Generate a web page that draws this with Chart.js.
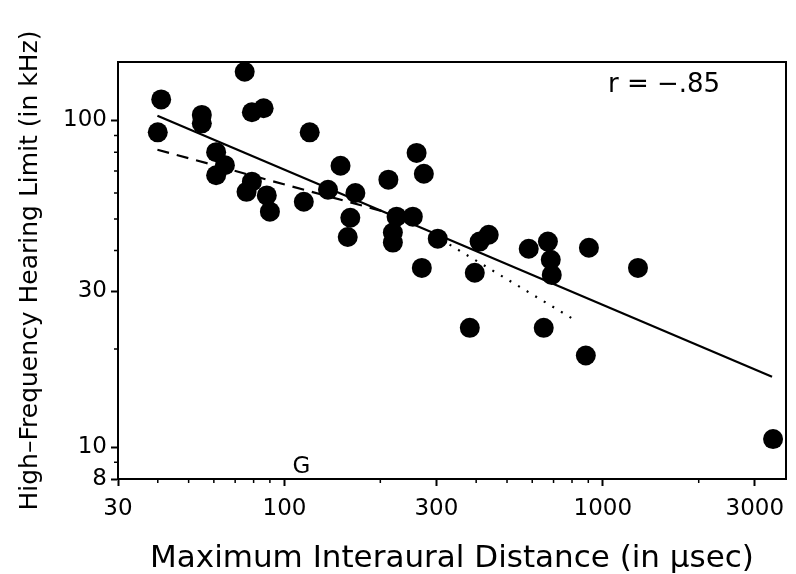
<!DOCTYPE html>
<html>
<head>
<meta charset="utf-8">
<script src="https://cdn.jsdelivr.net/npm/chart.js@4/dist/chart.umd.min.js"></script>
<style>
html,body{margin:0;padding:0;background:#fff;}
#wrap{width:796px;height:574px;}
</style>
</head>
<body>
<div id="wrap"><canvas id="c" width="796" height="574"></canvas></div>
<script>
// ---- data (x: µsec, y: kHz) ----
const interauralUs = [41, 40, 55, 55, 75, 79, 86, 120, 61, 65, 61, 79, 76, 88, 90, 115, 150, 137, 167, 161, 158, 260, 274, 212, 225, 253, 219, 219, 303, 270, 410, 438, 396, 382, 585, 672, 686, 691, 904, 652, 884, 1289, 3424];
const hearingKHz  = [116, 92, 104, 98, 141, 106, 109, 92, 80, 73, 68, 65, 60.5, 59, 52.6, 56.4, 72.7, 61.4, 60, 50.4, 44, 79.6, 68.7, 65.9, 50.8, 50.8, 45.4, 42.3, 43.5, 35.4, 42.6, 44.7, 34.2, 23.2, 40.5, 42.6, 37.5, 33.7, 40.8, 23.2, 19.1, 35.4, 10.6];

const solidFitX  = [39.9, 3399];
const solidFitY  = [103.4, 16.45];
const dashedFitX = [39.9, 206];
const dashedFitY = [81.4, 52.6];
const dottedFitX = [330, 835];
const dottedFitY = [41.7, 24.2];

const xTickValues = [30, 100, 300, 1000, 3000];
const yTickValues = [8, 10, 30, 100];
const xMinorValues = [40, 50, 60, 70, 80, 90, 200, 400, 500, 600, 700, 800, 900, 2000];
const yMinorValues = [9, 20, 40, 50, 60, 70, 80, 90];

const xTitle = 'Maximum Interaural Distance (in \u03BCsec)';
const yTitle = 'High\u2013Frequency Hearing Limit (in kHz)';
const corrText = 'r = \u2212.85';
const markText = 'G';

const FONT = "'DejaVu Sans', 'Liberation Sans', Arial, sans-serif";

const toPts = (xs, ys) => xs.map((x, i) => ({x: x, y: ys[i]}));

const decor = {
  id: 'decor',
  afterDraw(chart) {
    const ctx = chart.ctx, a = chart.chartArea;
    const xs = chart.scales.x, ys = chart.scales.y;
    ctx.save();
    ctx.strokeStyle = '#000';
    ctx.lineWidth = 2;
    ctx.strokeRect(a.left, a.top, a.right - a.left, a.bottom - a.top);
    ctx.lineWidth = 1.5;
    ctx.beginPath();
    xMinorValues.forEach(v => {
      const px = xs.getPixelForValue(v);
      ctx.moveTo(px, a.bottom);
      ctx.lineTo(px, a.bottom + 4);
    });
    yMinorValues.forEach(v => {
      const py = ys.getPixelForValue(v);
      ctx.moveTo(a.left, py);
      ctx.lineTo(a.left - 4, py);
    });
    ctx.stroke();
    ctx.fillStyle = '#000';
    ctx.textAlign = 'center';
    ctx.textBaseline = 'middle';
    ctx.font = "26px " + FONT;
    ctx.fillText(corrText, a.left + 546, a.top + 23);
    ctx.font = "23px " + FONT;
    ctx.fillText(markText, xs.getPixelForValue(113), a.bottom - 12);
    ctx.restore();
  }
};

new Chart(document.getElementById('c'), {
  type: 'scatter',
  data: {
    datasets: [
      {
        label: 'species',
        data: toPts(interauralUs, hearingKHz),
        pointRadius: 10,
        pointHoverRadius: 10,
        pointBackgroundColor: '#000',
        pointBorderColor: '#000',
        pointBorderWidth: 0,
        showLine: false,
        clip: false
      },
      {
        label: 'fit',
        type: 'line',
        data: toPts(solidFitX, solidFitY),
        borderColor: '#000',
        borderWidth: 2.2,
        pointRadius: 0,
        fill: false,
        clip: false
      },
      {
        label: 'fit2',
        type: 'line',
        data: toPts(dashedFitX, dashedFitY),
        borderColor: '#000',
        borderWidth: 2.2,
        borderDash: [12, 8],
        pointRadius: 0,
        fill: false,
        clip: false
      },
      {
        label: 'fit3',
        type: 'line',
        data: toPts(dottedFitX, dottedFitY),
        borderColor: '#000',
        borderWidth: 2.2,
        borderDash: [2, 8],
        pointRadius: 0,
        fill: false,
        clip: false
      }
    ]
  },
  options: {
    responsive: false,
    animation: false,
    devicePixelRatio: 1,
    layout: { padding: { top: 62, right: 10, left: 0, bottom: 0 } },
    plugins: { legend: { display: false }, tooltip: { enabled: false } },
    scales: {
      x: {
        type: 'logarithmic',
        position: 'bottom',
        min: 30,
        max: 3760,
        afterBuildTicks: s => { s.ticks = xTickValues.map(v => ({value: v})); },
        afterFit: s => { s.height = 95; },
        ticks: {
          color: '#000',
          font: { family: FONT, size: 23 },
          padding: 9,
          maxRotation: 0,
          autoSkip: false,
          callback: v => String(v)
        },
        grid: { drawOnChartArea: false, color: '#000', tickLength: 7, tickWidth: 2 },
        border: { color: '#000', width: 2 },
        title: {
          display: true,
          text: xTitle,
          color: '#000',
          font: { family: FONT, size: 31, lineHeight: 1 },
          padding: { top: 0, bottom: 0 }
        }
      },
      y: {
        type: 'logarithmic',
        position: 'left',
        min: 8,
        max: 151,
        afterBuildTicks: s => { s.ticks = yTickValues.map(v => ({value: v})); },
        afterFit: s => { s.width = 118; },
        ticks: {
          color: '#000',
          font: { family: FONT, size: 23 },
          padding: 4,
          autoSkip: false,
          callback: v => String(v)
        },
        grid: { drawOnChartArea: false, color: '#000', tickLength: 7, tickWidth: 2 },
        border: { color: '#000', width: 2 },
        title: {
          display: true,
          text: yTitle,
          color: '#000',
          font: { family: FONT, size: 25, lineHeight: 1.2 },
          padding: { top: 15, bottom: 0 }
        }
      }
    }
  },
  plugins: [decor]
});
</script>
</body>
</html>
